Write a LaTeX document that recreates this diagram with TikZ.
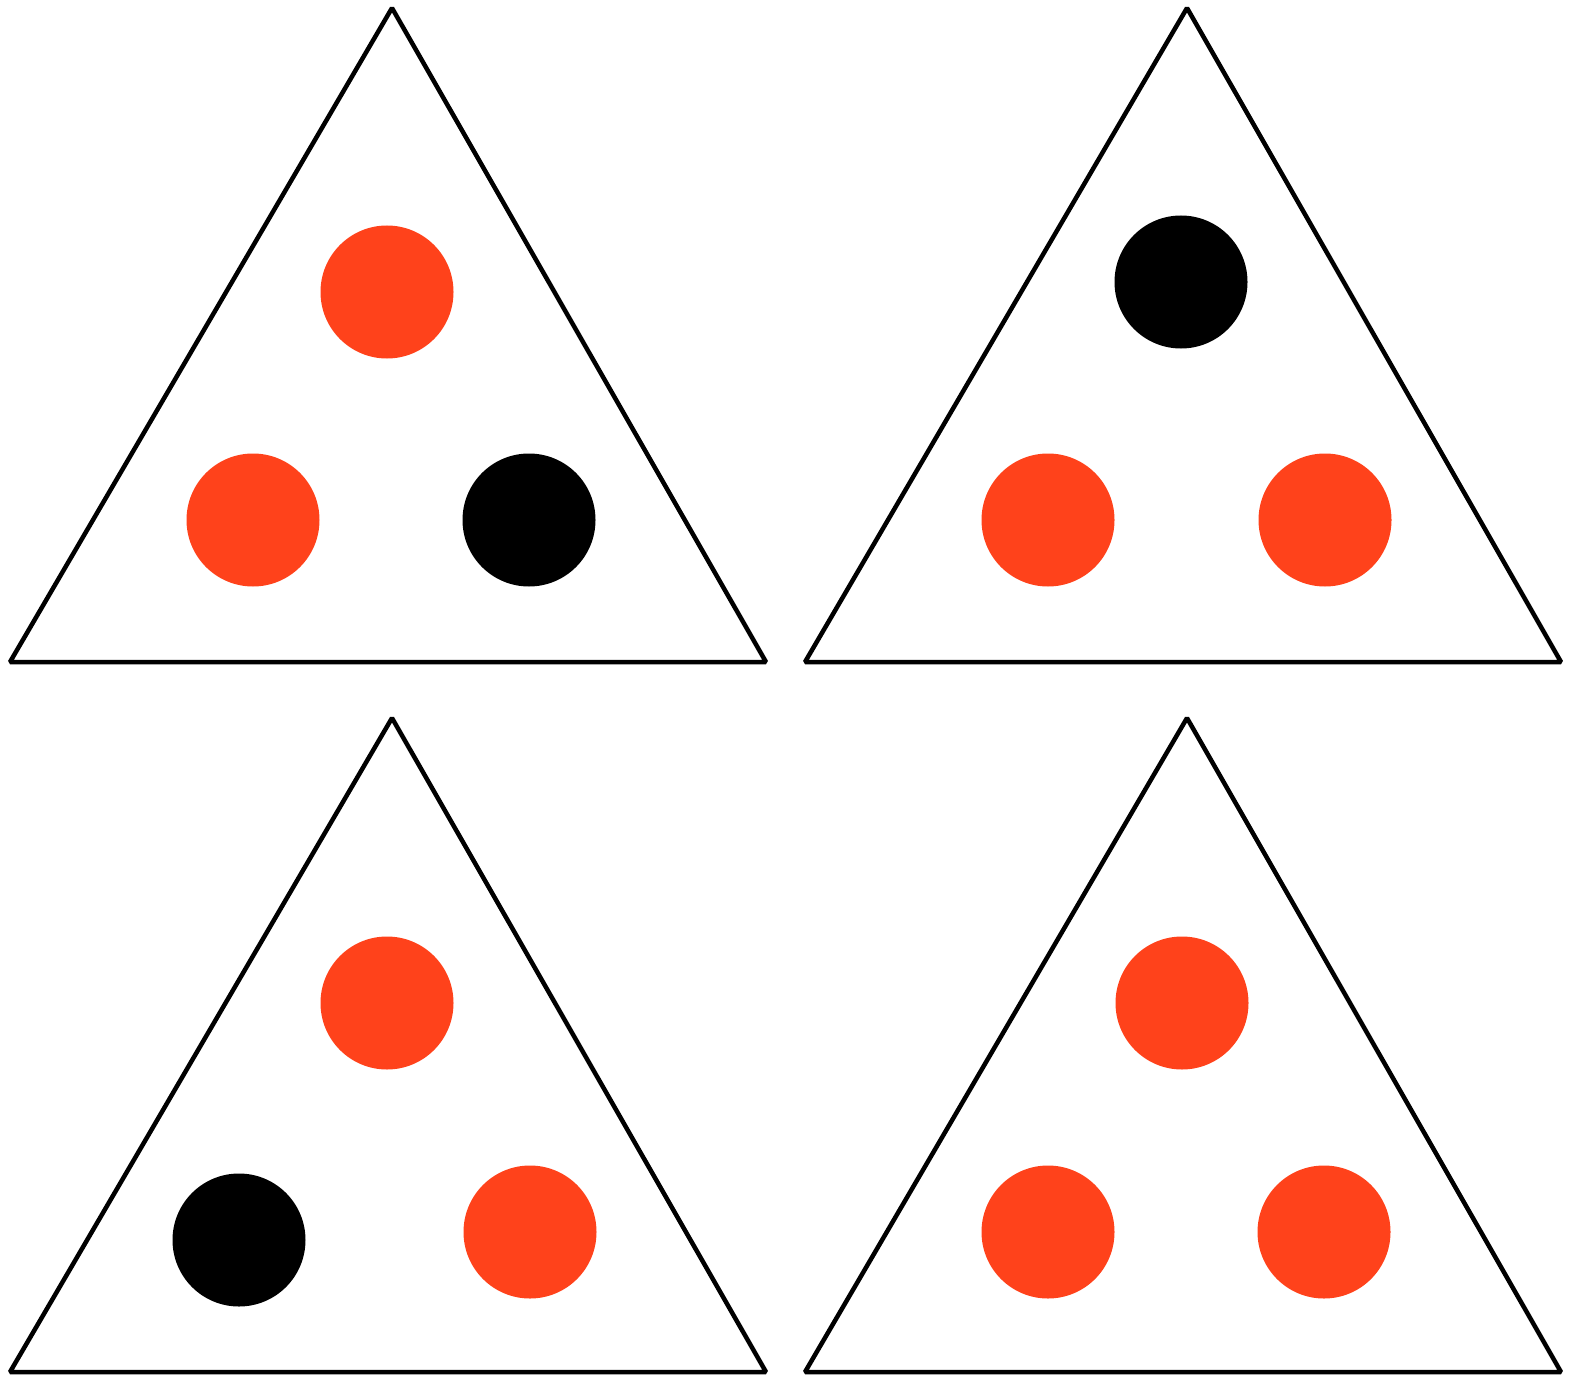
\documentclass[tikz,border=0pt]{standalone}
\definecolor{dotred}{HTML}{FF421B}
\begin{document}
\begin{tikzpicture}[x=1bp,y=-1bp,
  tri/.style={draw=black,line width=4.5bp,line join=bevel,fill=white},
  reddot/.style={circle,fill=dotred,minimum size=133bp,inner sep=0pt},
  blackdot/.style={circle,fill=black,minimum size=133bp,inner sep=0pt}]
\useasboundingbox (0,0) rectangle (1578,1392);
% triangles
\draw[tri] (392,8) -- (10,662) -- (766,662) -- cycle;
\draw[tri] (1187,8) -- (805,662) -- (1561,662) -- cycle;
\draw[tri] (392,718) -- (10,1372) -- (766,1372) -- cycle;
\draw[tri] (1187,718) -- (805,1372) -- (1561,1372) -- cycle;
% top-left
\node[reddot] (a1) at (387,292) {};
\node[reddot] (a2) at (253,520) {};
\node[blackdot] (a3) at (529,520) {};
% top-right
\node[blackdot] (b1) at (1181,282) {};
\node[reddot] (b2) at (1048,520) {};
\node[reddot] (b3) at (1325,520) {};
% bottom-left
\node[reddot] (c1) at (387,1003) {};
\node[blackdot] (c2) at (239,1240) {};
\node[reddot] (c3) at (530,1232) {};
% bottom-right
\node[reddot] (d1) at (1182,1003) {};
\node[reddot] (d2) at (1048,1232) {};
\node[reddot] (d3) at (1324,1232) {};
\end{tikzpicture}
\end{document}
